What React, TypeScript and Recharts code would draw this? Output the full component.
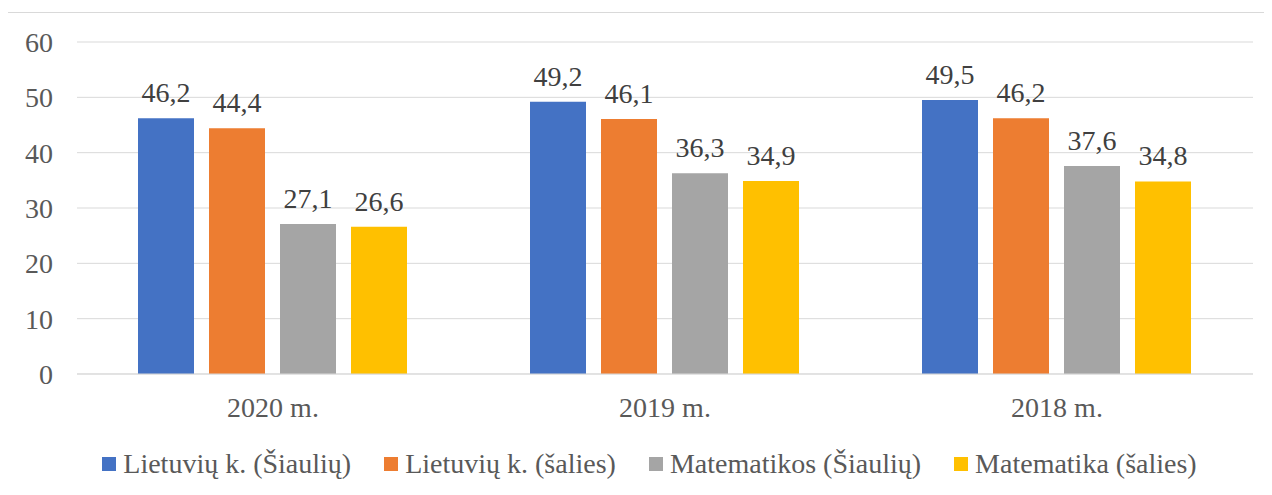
import { BarChart, Bar, XAxis, YAxis, CartesianGrid, Legend, LabelList } from 'recharts';

const categories = ['2020 m.', '2019 m.', '2018 m.'];
const lietSiauliu = [46.2, 49.2, 49.5];
const lietSalies = [44.4, 46.1, 46.2];
const matSiauliu = [27.1, 36.3, 37.6];
const matSalies = [26.6, 34.9, 34.8];
const yTicks = [0, 10, 20, 30, 40, 50, 60];

const series = [
  { key: 'ls', name: 'Lietuvių k. (Šiaulių)', color: '#4472C4' },
  { key: 'lsa', name: 'Lietuvių k. (šalies)', color: '#ED7D31' },
  { key: 'ms', name: 'Matematikos (Šiaulių)', color: '#A5A5A5' },
  { key: 'msa', name: 'Matematika (šalies)', color: '#FFC000' },
];

const data = categories.map((c, i) => ({
  name: c,
  ls: lietSiauliu[i],
  lsa: lietSalies[i],
  ms: matSiauliu[i],
  msa: matSalies[i],
}));

const font = '"Liberation Serif", "Times New Roman", serif';
const fs = 28;
const fmt = (v: any) => String(v).replace('.', ',');

// legend drawn as plain html so spacing matches the office-style legend
function LegendContent() {
  return (
    <div style={{ display: 'flex', justifyContent: 'center', fontFamily: font, fontSize: fs, color: '#595959', lineHeight: '32px', paddingLeft: 62 }}>
      {series.map((s) => (
        <div key={s.key} style={{ display: 'flex', alignItems: 'center', marginRight: 33 }}>
          <span style={{ display: 'inline-block', width: 14, height: 14, background: s.color, marginRight: 7 }} />
          <span>{s.name}</span>
        </div>
      ))}
    </div>
  );
}

export default function App() {
  return (
    <div style={{ position: 'relative', margin: '-8px 0 0 -8px', width: 1272, height: 495, background: '#fff', overflow: 'hidden' }}>
      <div style={{ position: 'absolute', left: 7, top: 12, width: 1264, height: 500, border: '1px solid #d9d9d9' }} />
      <div style={{ position: 'absolute', left: 0, top: 0 }}>
        <BarChart
          width={1272}
          height={495}
          data={data}
          margin={{ top: 42, right: 19, left: 17, bottom: 15 }}
          barGap={15}
          barCategoryGap={61}
        >
          <CartesianGrid vertical={false} stroke="#d9d9d9" />
          <XAxis
            dataKey="name"
            height={74}
            tickLine={false}
            tickSize={0}
            tickMargin={23}
            axisLine={{ stroke: '#d9d9d9' }}
            tick={{ fill: '#595959', fontSize: fs, fontFamily: font }}
          />
          <YAxis
            width={60}
            domain={[0, 60]}
            ticks={yTicks}
            axisLine={false}
            tickLine={false}
            tickSize={0}
            tickMargin={24}
            tick={{ fill: '#595959', fontSize: fs, fontFamily: font }}
          />
          <Legend verticalAlign="bottom" content={<LegendContent />} />
          {series.map((s) => (
            <Bar key={s.key} dataKey={s.key} name={s.name} fill={s.color} isAnimationActive={false}>
              <LabelList
                dataKey={s.key}
                position="top"
                offset={16}
                formatter={fmt}
                fill="#404040"
                fontSize={fs}
                fontFamily={font}
              />
            </Bar>
          ))}
        </BarChart>
      </div>
    </div>
  );
}
